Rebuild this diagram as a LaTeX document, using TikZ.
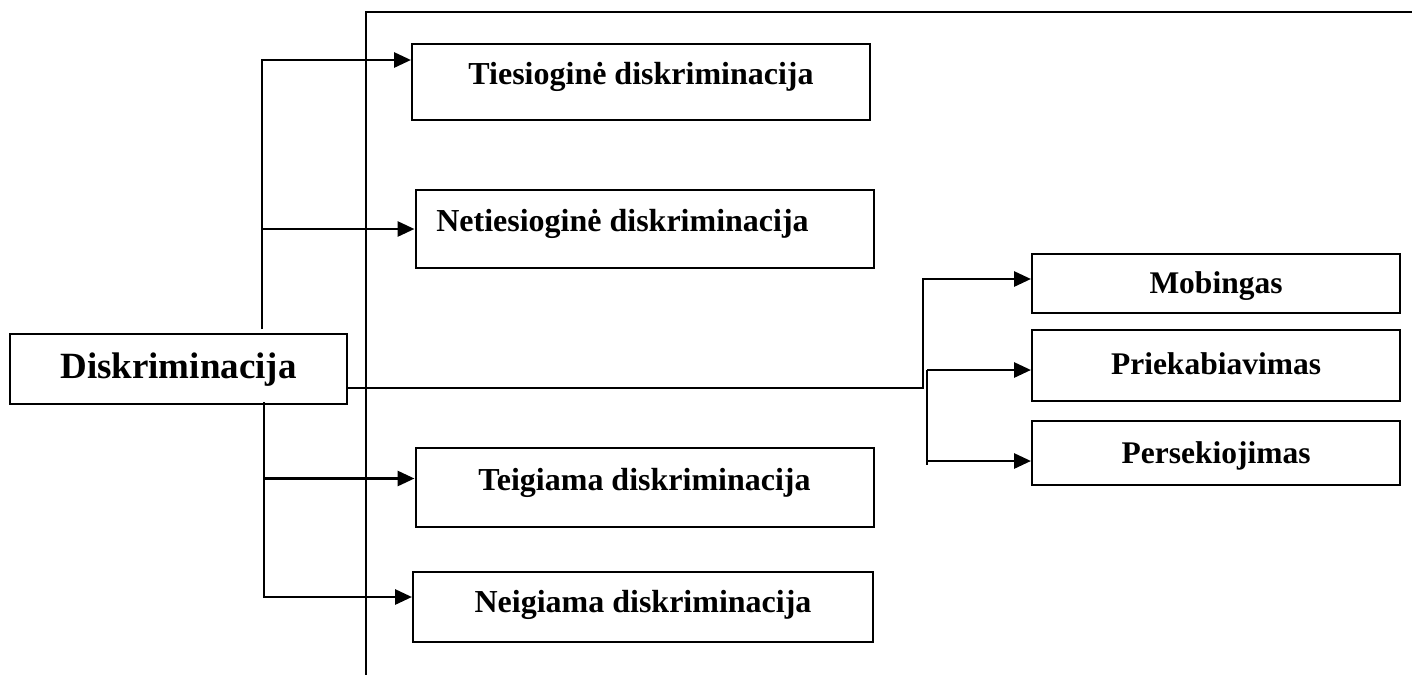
\documentclass[tikz,border=0pt]{standalone}
\usepackage{fontspec}
\setmainfont{Liberation Serif}
\usetikzlibrary{arrows.meta}

\begin{document}
\begin{tikzpicture}[x=0.5pt,y=-0.5pt,
    box/.style={draw,line width=1pt,minimum width=229pt,minimum height=38pt,
      inner sep=0pt,text height=8pt,text depth=5.4pt,
      font=\fontsize{16}{19}\selectfont\bfseries},
    subbox/.style={draw,line width=1pt,minimum width=184pt,minimum height=31pt,
      inner sep=0pt,text height=14pt,text depth=3.6pt,
      font=\fontsize{15.75}{18}\selectfont\bfseries},
    wire/.style={line width=1.45pt},
    link/.style={wire,-{Triangle[length=8.5pt,width=7.5pt]}}]
    \useasboundingbox (0,0) rectangle (1412,675);
    % open frame
    \coordinate (ftop) at (1412,12);
    \coordinate (fcorner) at (366,12);
    \coordinate (fbot) at (366,675);
    \draw[wire] (ftop) -- (fcorner) -- (fbot);
    % main node
    \node[draw,line width=1pt,minimum width=168.5pt,minimum height=35pt,inner sep=0pt,
      text height=14pt,text depth=4.3pt,
      font=\fontsize{18.5}{22}\selectfont\bfseries] (disk) at (178.5,369) {Diskriminacija};
    % kinds
    \node[box] (ties) at (641,82) {Tiesioginė diskriminacija};
    \node[box,minimum height=39pt] (neties) at (644.5,229)
      {Netiesioginė diskriminacija\hspace*{22pt}};
    \node[box,minimum height=39.5pt] (teig) at (644.5,487.5) {Teigiama diskriminacija};
    \node[box,minimum width=230pt,minimum height=35pt,text height=11pt]
      (neig) at (643,607) {Neigiama diskriminacija};
    % forms
    \node[subbox,minimum height=29.5pt] (mob) at (1216,283.5) {Mobingas};
    \node[subbox,minimum height=35.5pt,text height=12.5pt] (prie) at (1216,365.5) {Priekabiavimas};
    \node[subbox,minimum height=32pt] (pers) at (1216,453) {Persekiojimas};
    % junctions
    \coordinate (jup) at (262,329);
    \coordinate (jdown) at (264,402);
    \coordinate (jmid) at (923,388);
    \coordinate (jsub) at (927,370);
    \coordinate (jend) at (927,465);
    \draw[link] (jup) |- ([yshift=11pt]ties.west);
    \draw[link] (jup) |- (neties.west);
    \draw[link] (jdown) |- ([yshift=4.5pt]teig.west);
    \draw[link] (jdown) |- ([yshift=5pt]neig.west);
    \draw[link] (disk.east |- jmid) -- (jmid) |- ([yshift=2.25pt]mob.west);
    \draw[wire] (jsub) -- (jend);
    \draw[link] (jsub) -- (jsub -| prie.west);
    \draw[link] (jend |- 0,461) -- ([yshift=-4pt]pers.west);
\end{tikzpicture}
\end{document}
